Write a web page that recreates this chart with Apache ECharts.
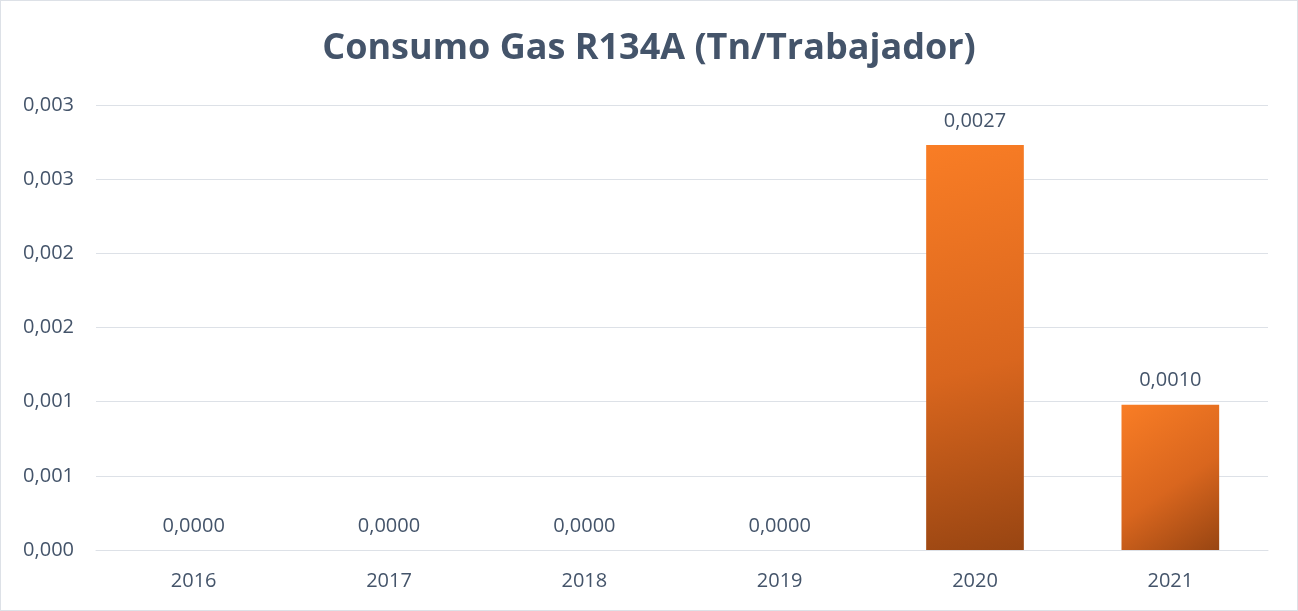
<!DOCTYPE html>
<html><head><meta charset="utf-8">
<script src="https://cdn.jsdelivr.net/npm/echarts@6/dist/echarts.min.js"></script>
<style>html,body{margin:0;padding:0;background:#fff}#c{width:1298px;height:611px;box-sizing:border-box;border:1px solid #DDE1E7}</style>
</head><body><div id="c"></div>
<script>
const categories = ['2016','2017','2018','2019','2020','2021'];
const values = [0, 0, 0, 0, 0.00273, 0.00098];
const titleText = 'Consumo Gas R134A (Tn/Trabajador)';

const chart = echarts.init(document.getElementById('c'));
const txt = '#44546A';
const font = '"Open Sans", "Noto Sans", sans-serif';
chart.setOption({
  animation: false,
  title: {
    text: titleText, left: 'center', top: 25,
    textStyle: { fontFamily: font, fontSize: 36, fontWeight: 'bold', color: txt }
  },
  grid: { left: 95, right: 29, top: 104, bottom: 60, containLabel: false },
  xAxis: {
    type: 'category', data: categories,
    axisLine: { show: true, lineStyle: { color: '#DDE1E7', width: 1 } },
    axisTick: { show: false },
    axisLabel: { color: txt, fontFamily: font, fontSize: 20, margin: 21 }
  },
  yAxis: {
    type: 'value', min: 0, max: 0.003, interval: 0.0005,
    axisLine: { show: false }, axisTick: { show: false },
    splitLine: { lineStyle: { color: '#DDE1E7', width: 1 } },
    axisLabel: {
      color: txt, fontFamily: font, fontSize: 20, margin: 22,
      formatter: v => (Math.round(v * 1000 + 1e-9) / 1000).toFixed(3).replace('.', ',')
    }
  },
  series: [{
    type: 'bar', data: values, barWidth: '50%',
    itemStyle: {
      color: new echarts.graphic.LinearGradient(0, 0, 1, 1, [
        { offset: 0, color: '#F97D25' },
        { offset: 0.55, color: '#D9661E' },
        { offset: 1, color: '#984512' }
      ])
    },
    label: {
      show: true, position: 'top', distance: 14,
      color: txt, fontFamily: font, fontSize: 20,
      formatter: p => p.value.toFixed(4).replace('.', ',')
    }
  }]
});
</script></body></html>
